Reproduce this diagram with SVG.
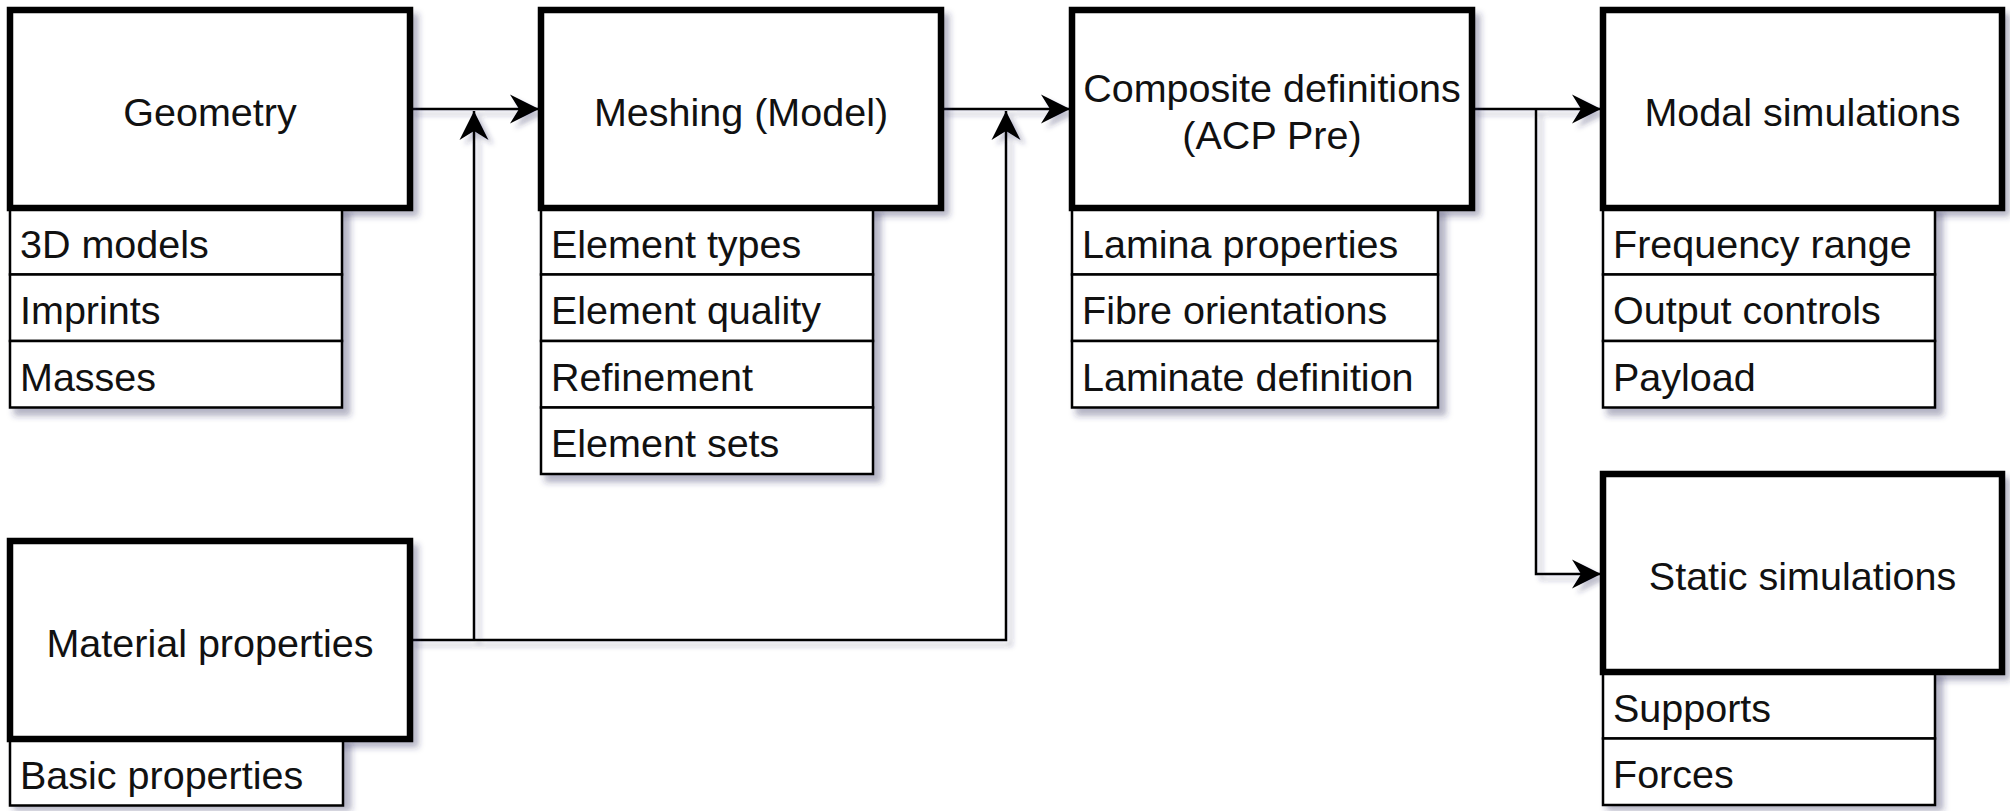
<svg xmlns="http://www.w3.org/2000/svg" width="2010" height="811" viewBox="0 0 2010 811">
  <defs>
    <style>
      .main { fill: #ffffff; stroke: #000000; stroke-width: 6.5; }
      .sub { fill: #ffffff; stroke: #000000; stroke-width: 2.5; }
      .sh { fill: #000000; stroke: #000000; stroke-width: 5; filter: url(#shadowOnly); }
      .lbl { font-family: "Liberation Sans", Arial, Helvetica, sans-serif; font-size: 39.5px; fill: #111111; text-anchor: middle; }
      .item { font-family: "Liberation Sans", Arial, Helvetica, sans-serif; font-size: 39.5px; fill: #111111; text-anchor: start; }
      .edge { fill: none; stroke: #000000; stroke-width: 2.5; }
    </style>
    <filter id="shadowOnly" filterUnits="userSpaceOnUse" x="0" y="0" width="2010" height="811">
      <feOffset in="SourceAlpha" dx="6" dy="6" result="off"/>
      <feGaussianBlur in="off" stdDeviation="3" result="blur"/>
      <feFlood flood-color="#2a2a5a" flood-opacity="0.35" result="col"/>
      <feComposite in="col" in2="blur" operator="in"/>
    </filter>
    <filter id="edgeShadow" filterUnits="userSpaceOnUse" x="0" y="0" width="2010" height="811">
      <feDropShadow dx="5" dy="5" stdDeviation="2.5" flood-color="#2a2a5a" flood-opacity="0.3"/>
    </filter>
    <marker id="arrow" viewBox="-30 -16 32 32" refX="0" refY="0" markerWidth="32" markerHeight="32" markerUnits="userSpaceOnUse" orient="auto">
      <path d="M0,0 L-29,-14.5 L-20,0 L-29,14.5 Z" fill="#000000" stroke="none"/>
    </marker>
  </defs>

  <rect x="0" y="0" width="2010" height="811" fill="#ffffff"/>

  <g id="connectors" filter="url(#edgeShadow)">
    <path class="edge" d="M410,109 H539" marker-end="url(#arrow)"/>
    <path class="edge" d="M941,109 H1070" marker-end="url(#arrow)"/>
    <path class="edge" d="M1472,109 H1601" marker-end="url(#arrow)"/>
    <path class="edge" d="M1536,109 V574 H1601" marker-end="url(#arrow)"/>
    <path class="edge" d="M410,640 H1006 V111" marker-end="url(#arrow)"/>
    <path class="edge" d="M474,640 V111" marker-end="url(#arrow)"/>
  </g>

  <g id="geometry">
    <rect class="sh" x="10" y="10" width="400" height="198"/>
    <rect class="sh" x="10" y="208" width="332" height="199.5"/>
    <rect class="sub" x="10" y="208" width="332" height="66.5"/>
    <rect class="sub" x="10" y="274.5" width="332" height="66.5"/>
    <rect class="sub" x="10" y="341" width="332" height="66.5"/>
    <rect class="main" x="10" y="10" width="400" height="198"/>
    <text class="lbl" x="210" y="125.5">Geometry</text>
    <text class="item" x="20" y="257.5">3D models</text>
    <text class="item" x="20" y="324">Imprints</text>
    <text class="item" x="20" y="390.5">Masses</text>
  </g>

  <g id="meshing">
    <rect class="sh" x="541" y="10" width="400" height="198"/>
    <rect class="sh" x="541" y="208" width="332" height="266"/>
    <rect class="sub" x="541" y="208" width="332" height="66.5"/>
    <rect class="sub" x="541" y="274.5" width="332" height="66.5"/>
    <rect class="sub" x="541" y="341" width="332" height="66.5"/>
    <rect class="sub" x="541" y="407.5" width="332" height="66.5"/>
    <rect class="main" x="541" y="10" width="400" height="198"/>
    <text class="lbl" x="741" y="125.5">Meshing (Model)</text>
    <text class="item" x="551" y="257.5">Element types</text>
    <text class="item" x="551" y="324">Element quality</text>
    <text class="item" x="551" y="390.5">Refinement</text>
    <text class="item" x="551" y="457">Element sets</text>
  </g>

  <g id="composite">
    <rect class="sh" x="1072" y="10" width="400" height="198"/>
    <rect class="sh" x="1072" y="208" width="366" height="199.5"/>
    <rect class="sub" x="1072" y="208" width="366" height="66.5"/>
    <rect class="sub" x="1072" y="274.5" width="366" height="66.5"/>
    <rect class="sub" x="1072" y="341" width="366" height="66.5"/>
    <rect class="main" x="1072" y="10" width="400" height="198"/>
    <text class="lbl" x="1272" y="101.5">Composite definitions</text>
    <text class="lbl" x="1272" y="149">(ACP Pre)</text>
    <text class="item" x="1082" y="257.5">Lamina properties</text>
    <text class="item" x="1082" y="324">Fibre orientations</text>
    <text class="item" x="1082" y="390.5">Laminate definition</text>
  </g>

  <g id="modal">
    <rect class="sh" x="1603" y="10" width="399" height="198"/>
    <rect class="sh" x="1603" y="208" width="332" height="199.5"/>
    <rect class="sub" x="1603" y="208" width="332" height="66.5"/>
    <rect class="sub" x="1603" y="274.5" width="332" height="66.5"/>
    <rect class="sub" x="1603" y="341" width="332" height="66.5"/>
    <rect class="main" x="1603" y="10" width="399" height="198"/>
    <text class="lbl" x="1802.5" y="125.5">Modal simulations</text>
    <text class="item" x="1613" y="257.5">Frequency range</text>
    <text class="item" x="1613" y="324">Output controls</text>
    <text class="item" x="1613" y="390.5">Payload</text>
  </g>

  <g id="material">
    <rect class="sh" x="10" y="541" width="400" height="198"/>
    <rect class="sh" x="10" y="739" width="333" height="66.5"/>
    <rect class="sub" x="10" y="739" width="333" height="66.5"/>
    <rect class="main" x="10" y="541" width="400" height="198"/>
    <text class="lbl" x="210" y="656.5">Material properties</text>
    <text class="item" x="20" y="788.5">Basic properties</text>
  </g>

  <g id="static">
    <rect class="sh" x="1603" y="474" width="399" height="198"/>
    <rect class="sh" x="1603" y="672" width="332" height="133"/>
    <rect class="sub" x="1603" y="672" width="332" height="66.5"/>
    <rect class="sub" x="1603" y="738.5" width="332" height="66.5"/>
    <rect class="main" x="1603" y="474" width="399" height="198"/>
    <text class="lbl" x="1802.5" y="589.5">Static simulations</text>
    <text class="item" x="1613" y="721.5">Supports</text>
    <text class="item" x="1613" y="788">Forces</text>
  </g>
</svg>
